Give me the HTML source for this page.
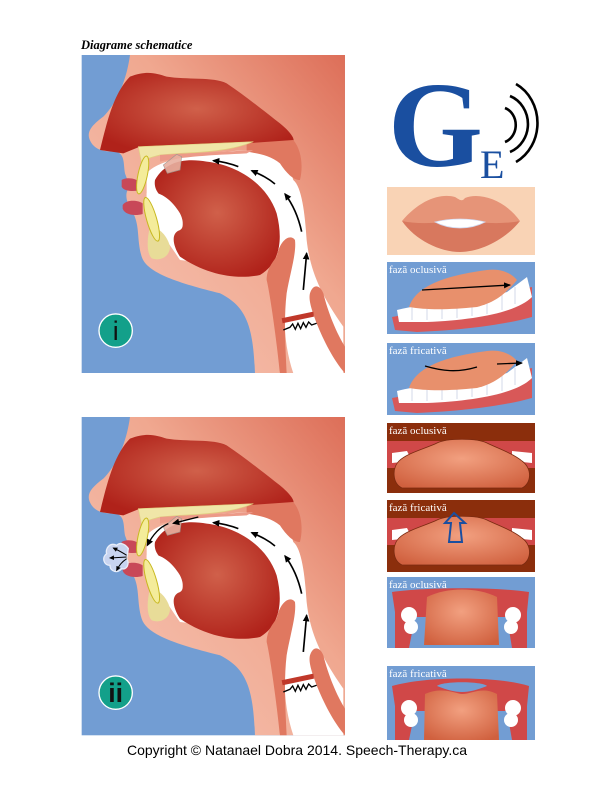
<!DOCTYPE html>
<html><head><meta charset="utf-8"><style>
html,body{margin:0;padding:0;background:#fff;}
body{width:612px;height:792px;overflow:hidden;position:relative;}
svg{position:absolute;left:0;top:0;}
</style></head><body>
<svg width="612" height="792" viewBox="0 0 612 792" xmlns="http://www.w3.org/2000/svg">
<defs>
<linearGradient id="skin" x1="0" y1="1" x2="1" y2="0">
<stop offset="0" stop-color="#f7c6b6"/><stop offset="0.6" stop-color="#f0a890"/><stop offset="1" stop-color="#dd6e58"/></linearGradient>
<radialGradient id="red" cx="0.5" cy="0.45" r="0.6"><stop offset="0" stop-color="#d0604a"/><stop offset="1" stop-color="#b0221a"/></radialGradient>
<radialGradient id="tg" cx="0.5" cy="0.4" r="0.7"><stop offset="0" stop-color="#f2a080"/><stop offset="1" stop-color="#d0603e"/></radialGradient>
<marker id="ah" markerWidth="8" markerHeight="8" refX="6" refY="4" orient="auto" markerUnits="userSpaceOnUse"><path d="M0,1 L7,4 L0,7 z" fill="#000"/></marker>
<marker id="ah2" markerWidth="26" markerHeight="26" refX="18" refY="13" orient="auto" markerUnits="userSpaceOnUse"><path d="M0,3 L22,13 L0,23 z" fill="#000"/></marker>
<marker id="ah3" markerWidth="18" markerHeight="18" refX="12" refY="9" orient="auto" markerUnits="userSpaceOnUse"><path d="M0,2 L15,9 L0,16 z" fill="#000"/></marker>
<g id="head">
<rect x="5" y="45" width="790" height="955" fill="#729dd3"/>
<path d="M150,45 C140,120 110,190 70,230 C30,260 15,280 35,310 C50,330 70,335 110,335 C135,345 130,370 135,400 L150,440 C130,460 140,490 160,520 C180,560 170,600 185,650 C200,700 300,730 420,760 C500,800 520,860 525,1000 L795,1000 L795,45 Z" fill="url(#skin)"/>
<path d="M60,330 C80,250 100,160 150,110 C200,90 230,100 260,110 C320,120 400,110 440,130 C500,170 560,220 600,250 C630,275 645,295 640,305 L520,310 L180,320 L130,340 Z" fill="url(#red)"/>
<path d="M200,400 C240,350 400,335 520,330 C590,335 630,380 640,420 C665,440 675,520 680,600 C690,690 720,760 790,860 L790,1000 L640,1000 C620,940 610,870 615,800 C620,720 630,660 640,610 C600,620 580,660 560,690 L300,660 C260,600 230,560 200,520 Z" fill="#fff"/>
<path d="M500,310 L640,300 C665,330 670,380 660,420 C640,420 620,400 600,370 C570,345 530,340 500,335 Z" fill="#e07860"/>
<path d="M175,320 L520,305 C470,325 420,335 300,340 L240,345 C210,352 190,360 185,370 Z" fill="#f0e6a8" stroke="#e0d080" stroke-width="2"/>
<path d="M240,345 C320,340 450,335 520,330 L500,340 C400,345 300,350 240,365 Z" fill="#ec9a88"/>
<path d="M225,420 C260,360 320,355 380,365 C470,375 560,430 590,520 C610,600 600,670 540,705 C470,720 380,705 300,650 C280,620 270,580 300,570 C320,560 300,520 270,490 C240,470 220,450 225,420 Z" fill="url(#red)"/>
<path d="M200,460 C230,450 270,470 300,520 C320,560 300,580 280,570 C250,560 220,520 200,500 Z" fill="#fff"/>
<path d="M210,560 C230,560 260,580 270,620 C270,650 240,665 215,655 C200,640 200,600 210,560 Z" fill="#e8dc98"/>
<path d="M590,650 C600,600 630,580 645,600 C650,640 630,700 620,760 C612,830 615,900 620,1000 L600,1000 C590,900 570,760 560,720 C560,690 575,670 590,650 Z" fill="#e07860"/>
<path d="M690,760 C700,730 720,735 730,760 C745,820 770,880 795,920 L795,1000 C760,960 730,900 710,850 C695,810 685,780 690,760 Z" fill="#e07860"/>
<path d="M250,375 L290,343 L305,350 L300,390 L262,400 Z" fill="#e8b0a0" stroke="#a09890" stroke-width="2" opacity="0.9"/>
<path d="M125,420 C140,410 170,415 180,428 L175,452 C150,455 130,452 125,440 Z" fill="#c84858"/>
<path d="M128,495 C140,478 172,480 188,490 L188,522 C160,530 132,522 128,505 Z" fill="#c84858"/>
<ellipse cx="188" cy="405" rx="14" ry="58" transform="rotate(12 188 405)" fill="#f4ec9a" stroke="#c8b820" stroke-width="3"/>
<ellipse cx="215" cy="538" rx="15" ry="68" transform="rotate(-16 215 538)" fill="#f4ec9a" stroke="#c8b820" stroke-width="3"/>
<path d="M605,835 L700,815 L702,830 L608,850 Z" fill="#c0382a"/>
<path d="M610,870 L630,862 L638,852 L646,868 L654,850 L662,866 L670,848 L678,862 L686,846 L695,855 L710,850" fill="none" stroke="#000" stroke-width="4"/>
<line x1="670" y1="750" x2="680" y2="640" stroke="#000" stroke-width="5" marker-end="url(#ah2)"/>
<path d="M665,575 C655,530 640,495 615,462" fill="none" stroke="#000" stroke-width="5" marker-end="url(#ah2)"/>
<path d="M585,432 C565,415 545,405 515,392" fill="none" stroke="#000" stroke-width="5" marker-end="url(#ah2)"/>
<path d="M475,380 C455,372 430,365 400,362" fill="none" stroke="#000" stroke-width="5" marker-end="url(#ah2)"/>
<circle cx="107" cy="872" r="50" fill="#13a08a" stroke="#fff" stroke-width="4"/>
</g>
</defs>
<text x="81" y="49" font-family="Liberation Serif, serif" font-size="12.5" font-weight="bold" font-style="italic">Diagrame schematice</text>
<g transform="translate(80,40) scale(0.3333)"><use href="#head"/>
<text x="107" y="900" text-anchor="middle" font-family="Liberation Sans, sans-serif" font-size="80" fill="#111">i</text></g>
<g transform="translate(80,402) scale(0.3333)"><use href="#head"/>
<path d="M110,430 C90,420 75,440 80,455 C65,465 70,490 90,490 C90,510 115,515 125,500 C140,505 150,485 140,470 L145,440 C135,425 120,420 110,430 Z" fill="#c8d4f0" stroke="#e8eefa" stroke-width="4"/>
<path d="M140,460 C125,450 115,445 100,438" fill="none" stroke="#000" stroke-width="3" marker-end="url(#ah3)"/>
<line x1="140" y1="465" x2="90" y2="468" stroke="#000" stroke-width="3" marker-end="url(#ah3)"/>
<path d="M140,470 C125,480 118,490 110,505" fill="none" stroke="#000" stroke-width="3" marker-end="url(#ah3)"/>
<path d="M265,365 C240,375 220,395 202,430" fill="none" stroke="#000" stroke-width="4" marker-end="url(#ah2)"/>
<line x1="355" y1="345" x2="280" y2="364" stroke="#000" stroke-width="4" marker-end="url(#ah2)"/>
<text x="107" y="900" text-anchor="middle" font-family="Liberation Sans, sans-serif" font-size="80" font-weight="bold" fill="#111">ii</text></g>
<rect x="80" y="373" width="270" height="40" fill="#fff"/>
<rect x="346" y="50" width="10" height="690" fill="#fff"/>
<text x="388" y="166" font-family="Liberation Serif, serif" font-size="122" font-weight="bold" fill="#1a4fa0">G</text>
<text x="480" y="178" font-family="Liberation Serif, serif" font-size="40" fill="#1a4fa0">E</text>
<g fill="none" stroke="#000" stroke-width="2.6">
<path d="M505,108 A16,18 0 0 1 505,142"/><path d="M510,96 A28,30 0 0 1 510,152"/><path d="M516,84 A40,44 0 0 1 516,162"/></g>
<rect x="387" y="187" width="148" height="68" fill="#f9d3b5"/>
<path d="M402,221 C420,200 440,193 455,197 C460,200 462,202 465,198 C480,192 505,200 520,221 C500,226 480,222 460,224 C440,222 420,226 402,221 Z" fill="#e69478"/>
<path d="M402,221 C420,225 440,222 460,222 C480,222 500,225 520,221 C505,240 480,252 460,252 C440,252 415,240 402,221 Z" fill="#d8785e"/>
<path d="M435,222 C450,218 470,218 485,222 C470,230 450,230 435,222 Z" fill="#fff" stroke="#d0d8f0" stroke-width="0.8"/>
<g transform="translate(387,262)">
<rect width="148" height="72" fill="#729dd3"/>
<path d="M5,55 C30,50 80,48 110,40 C125,35 140,25 145,25 L145,55 C120,62 80,68 30,70 L8,68 Z" fill="#d85858"/>
<path d="M10,48 C40,40 90,40 120,30 L140,15 L145,35 C130,50 90,58 40,60 L12,60 Z" fill="#fff"/>
<g stroke="#c0c8e0" stroke-width="0.7"><line x1="25" y1="45" x2="25" y2="58"/><line x1="40" y1="43" x2="40" y2="58"/><line x1="55" y1="42" x2="55" y2="57"/><line x1="70" y1="42" x2="70" y2="56"/><line x1="85" y1="40" x2="85" y2="54"/><line x1="100" y1="37" x2="100" y2="52"/><line x1="115" y1="32" x2="115" y2="48"/><line x1="128" y1="25" x2="128" y2="42"/></g>
<path d="M22,45 C30,20 70,12 100,8 C115,6 125,12 130,18 C120,30 110,40 90,45 C60,48 40,48 22,45 Z" fill="#e8906c"/>
<line x1="35" y1="28" x2="123" y2="23" stroke="#000" stroke-width="1.3" marker-end="url(#ah)"/>
<text x="2" y="11" font-family="Liberation Serif, serif" font-size="11" fill="#fff">fază oclusivă</text></g>
<g transform="translate(387,343)">
<rect width="148" height="72" fill="#729dd3"/>
<path d="M5,55 C30,50 80,48 110,40 C125,35 140,25 145,25 L145,55 C120,62 80,68 30,70 L8,68 Z" fill="#d85858"/>
<path d="M10,48 C40,40 90,40 120,30 L140,15 L145,35 C130,50 90,58 40,60 L12,60 Z" fill="#fff"/>
<g stroke="#c0c8e0" stroke-width="0.7"><line x1="25" y1="45" x2="25" y2="58"/><line x1="40" y1="43" x2="40" y2="58"/><line x1="55" y1="42" x2="55" y2="57"/><line x1="70" y1="42" x2="70" y2="56"/><line x1="85" y1="40" x2="85" y2="54"/><line x1="100" y1="37" x2="100" y2="52"/><line x1="115" y1="32" x2="115" y2="48"/><line x1="128" y1="25" x2="128" y2="42"/></g>
<path d="M22,45 C30,20 70,12 100,8 C115,6 125,12 130,18 C120,30 110,40 90,45 C60,48 40,48 22,45 Z" fill="#e8906c"/>
<path d="M38,23 C55,28 70,30 90,24" fill="none" stroke="#000" stroke-width="1.3"/>
<line x1="110" y1="21" x2="135" y2="20" stroke="#000" stroke-width="1.3" marker-end="url(#ah)"/>
<text x="2" y="11" font-family="Liberation Serif, serif" font-size="11" fill="#fff">fază fricativă</text></g>
<g transform="translate(387,423)">
<rect width="148" height="70" fill="#8b2e0c"/>
<path d="M0,18 L148,18 L148,45 L0,45 Z" fill="#d04848"/>
<path d="M5,30 L20,28 L25,38 L5,40 Z M125,28 L145,30 L145,40 L125,38 Z" fill="#fff"/>
<path d="M12,38 C20,30 40,25 50,20 C60,15 90,15 100,20 C110,25 125,30 135,38 C145,45 145,60 135,65 L15,65 C5,60 5,45 12,38 Z" fill="url(#tg)" stroke="#7a2a10" stroke-width="0.8"/>
<text x="2" y="11" font-family="Liberation Serif, serif" font-size="11" fill="#fff">fază oclusivă</text></g>
<g transform="translate(387,500)">
<rect width="148" height="72" fill="#8b2e0c"/>
<path d="M0,18 L148,18 L148,45 L0,45 Z" fill="#d04848"/>
<path d="M5,30 L20,28 L25,38 L5,40 Z M125,28 L145,30 L145,40 L125,38 Z" fill="#fff"/>
<path d="M12,38 C20,30 40,25 50,20 C60,15 90,15 100,20 C110,25 125,30 135,38 C145,45 145,60 135,65 L15,65 C5,60 5,45 12,38 Z" fill="url(#tg)" stroke="#7a2a10" stroke-width="0.8"/>
<path d="M67,13 L78,23 L73,23 L75,42 L62,42 L64,23 L58,23 Z" fill="none" stroke="#1a4fa0" stroke-width="2"/>
<text x="2" y="11" font-family="Liberation Serif, serif" font-size="11" fill="#fff">fază fricativă</text></g>
<g transform="translate(387,577)">
<rect width="148" height="71" fill="#729dd3"/>
<path d="M5,15 C40,10 110,10 142,15 L140,35 L140,71 L125,71 L120,40 L28,40 L22,71 L8,71 L8,35 Z" fill="#d04848"/>
<circle cx="22" cy="38" r="8" fill="#fff"/><circle cx="24" cy="50" r="7" fill="#fff"/>
<circle cx="126" cy="38" r="8" fill="#fff"/><circle cx="124" cy="50" r="7" fill="#fff"/>
<path d="M40,20 C60,10 90,10 110,20 L112,68 L37,68 Z" fill="url(#tg)"/>
<text x="2" y="11" font-family="Liberation Serif, serif" font-size="11" fill="#fff">fază oclusivă</text></g>
<g transform="translate(387,666)">
<rect width="148" height="74" fill="#729dd3"/>
<path d="M5,20 C40,10 110,10 142,20 L140,40 L140,74 L125,74 L120,45 L28,45 L22,74 L8,74 L8,40 Z" fill="#d04848"/>
<path d="M50,20 C70,28 80,28 100,20 C95,15 55,15 50,20 Z" fill="#729dd3"/>
<circle cx="22" cy="42" r="8" fill="#fff"/><circle cx="24" cy="54" r="7" fill="#fff"/>
<circle cx="126" cy="42" r="8" fill="#fff"/><circle cx="124" cy="54" r="7" fill="#fff"/>
<path d="M38,28 C55,20 70,28 75,28 C85,28 95,20 110,28 L112,74 L37,74 Z" fill="url(#tg)"/>
<text x="2" y="11" font-family="Liberation Serif, serif" font-size="11" fill="#fff">fază fricativă</text></g>
<text x="297" y="755" text-anchor="middle" font-family="Liberation Sans, sans-serif" font-size="14" fill="#000">Copyright © Natanael Dobra 2014. Speech-Therapy.ca</text>
</svg>
</body></html>
